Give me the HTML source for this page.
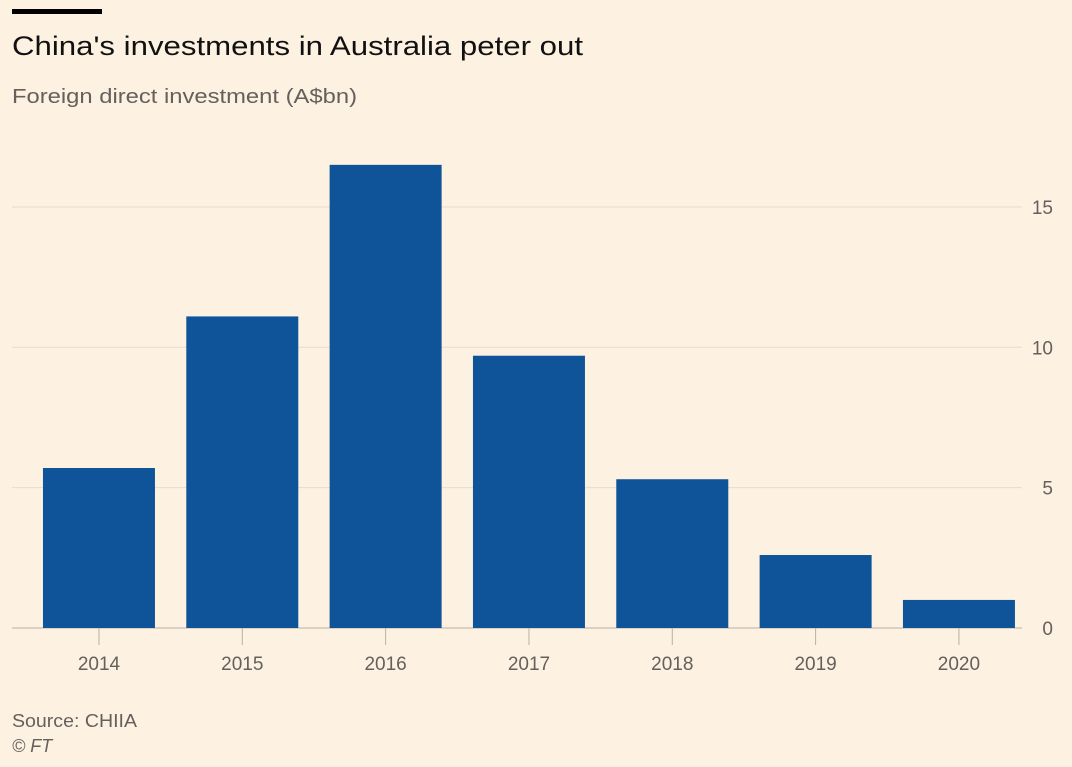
<!DOCTYPE html>
<html><head><meta charset="utf-8"><style>
body{margin:0;background:#fdf1e2;width:1072px;height:767px;overflow:hidden;font-family:"Liberation Sans",sans-serif;}
svg{display:block}
</style></head><body>
<svg width="1072" height="767">
<rect x="12" y="9" width="90" height="5" fill="#000"/>
<text x="12" y="55" font-size="27" fill="#111" textLength="571" lengthAdjust="spacingAndGlyphs">China's investments in Australia peter out</text>
<text x="12" y="103" font-size="20" fill="#66605c" textLength="345" lengthAdjust="spacingAndGlyphs">Foreign direct investment (A$bn)</text>
<g id="grid"></g><g id="bars"></g><g id="xaxis"></g>
<text x="12" y="727" font-size="18" fill="#66605c" textLength="125" lengthAdjust="spacingAndGlyphs">Source: CHIIA</text>
<text x="12" y="752" font-size="18" font-style="italic" fill="#66605c">© FT</text>
</svg>
<script>
const categories=["2014","2015","2016","2017","2018","2019","2020"];
const values=[5.7,11.1,16.5,9.7,5.3,2.6,1.0];
const yTicks=[0,5,10,15];
const ns="http://www.w3.org/2000/svg";
const y0=628,ppu=28.07,left=27.3,step=143.33,bw=112;
const y=v=>y0-v*ppu, xc=i=>left+step*(i+0.5);
function mk(t,a,p){const e=document.createElementNS(ns,t);for(const k in a)e.setAttribute(k,a[k]);p.appendChild(e);return e;}
const g=document.getElementById('grid'),b=document.getElementById('bars'),xa=document.getElementById('xaxis');
yTicks.forEach(v=>{
 const l=mk('line',{x1:12,x2:1022,y1:y(v),y2:y(v),stroke:v===0?'#b8b0a8':'#e6dbcf','stroke-width':1},g);
 
 
 const t=mk('text',{x:1053,y:y(v)+7,'font-size':19,fill:'#66605c','text-anchor':'end'},g);t.textContent=v;
 
 
});
categories.forEach((c,i)=>{
 const r=mk('rect',{x:xc(i)-bw/2,y:y(values[i]),width:bw,height:values[i]*ppu,fill:'#0f5499'},b);
 
 
 const tk=mk('line',{x1:xc(i),x2:xc(i),y1:y0,y2:y0+17,stroke:'#b8b0a8'},xa);
 
 
 const t=mk('text',{x:xc(i),y:670,'font-size':19,fill:'#66605c','text-anchor':'middle'},xa);t.textContent=c;
 
 
});
</script>
</body></html>
